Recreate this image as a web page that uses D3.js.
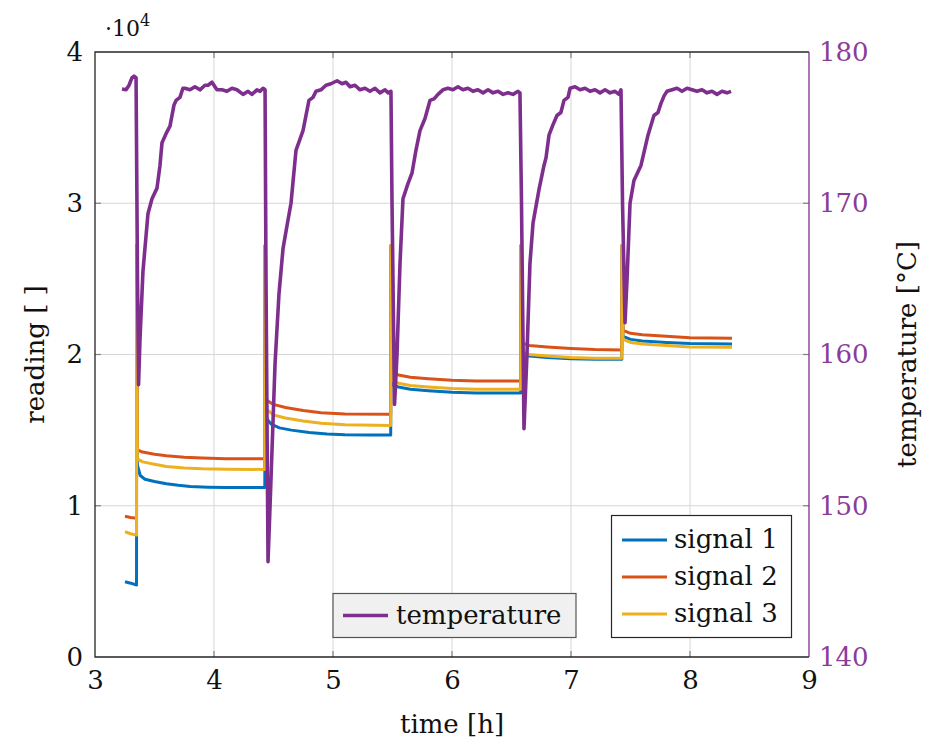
<!DOCTYPE html>
<html>
<head>
  <style>
    body {
      margin: 0;
      padding: 0;
      background: white;
      font-family: "DejaVu Serif", "Liberation Serif", serif;
    }
    #chart svg { display: block; }
    #chart text { font-family: "DejaVu Serif", "Liberation Serif", serif; }
  </style>
</head>
<body>
  <div id="chart"></div>

  <script src="https://cdnjs.cloudflare.com/ajax/libs/d3/7.8.5/d3.min.js"></script>
  <script>
    // ticks
    const timeTicks = [3, 4, 5, 6, 7, 8, 9];
    const readingTicks = [0, 10000, 20000, 30000, 40000];
    const tempTicks = [140, 150, 160, 170, 180];

    // [time h, reading]
    const signal1 = [
      [3.252, 4980], [3.30, 4880], [3.349, 4760], [3.350, 27200], [3.356, 12700], [3.38, 12000],
      [3.42, 11750], [3.50, 11600], [3.60, 11450], [3.70, 11350], [3.80, 11280], [3.95, 11230],
      [4.10, 11200], [4.427, 11200],
      [4.429, 27200], [4.437, 15800], [4.48, 15400], [4.55, 15150], [4.65, 15000], [4.80, 14850],
      [4.95, 14750], [5.10, 14700], [5.30, 14680], [5.485, 14680],
      [5.487, 27200], [5.495, 18000], [5.55, 17850], [5.65, 17700], [5.80, 17600], [6.00, 17500],
      [6.20, 17450], [6.578, 17450],
      [6.580, 27200], [6.588, 20050], [6.65, 19900], [6.80, 19800], [7.00, 19720], [7.20, 19680],
      [7.427, 19680],
      [7.429, 27200], [7.437, 21200], [7.50, 21000], [7.60, 20900], [7.80, 20800], [8.00, 20720],
      [8.353, 20700]
    ];
    const signal2 = [
      [3.252, 9300], [3.30, 9220], [3.349, 9170], [3.350, 27200], [3.356, 13700], [3.40, 13550],
      [3.50, 13400], [3.60, 13300], [3.75, 13200], [3.90, 13150], [4.10, 13100], [4.427, 13100],
      [4.429, 27200], [4.437, 17000], [4.50, 16700], [4.60, 16500], [4.75, 16300], [4.90, 16150],
      [5.10, 16070], [5.485, 16050],
      [5.487, 27200], [5.495, 18800], [5.55, 18650], [5.65, 18500], [5.80, 18400], [6.00, 18300],
      [6.20, 18250], [6.578, 18250],
      [6.580, 27200], [6.588, 20750], [6.65, 20600], [6.80, 20500], [7.00, 20400], [7.20, 20330],
      [7.427, 20300],
      [7.429, 27200], [7.437, 21600], [7.50, 21400], [7.60, 21300], [7.80, 21200], [8.00, 21100],
      [8.353, 21080]
    ];
    const signal3 = [
      [3.252, 8280], [3.30, 8150], [3.349, 8060], [3.350, 27200], [3.356, 13100], [3.40, 12900],
      [3.50, 12750], [3.60, 12600], [3.75, 12500], [3.90, 12450], [4.10, 12420], [4.427, 12400],
      [4.429, 27200], [4.437, 16400], [4.50, 16000], [4.60, 15800], [4.75, 15600], [4.90, 15450],
      [5.10, 15350], [5.485, 15300],
      [5.487, 27200], [5.495, 18300], [5.55, 18100], [5.65, 17950], [5.80, 17850], [6.00, 17750],
      [6.20, 17700], [6.578, 17700],
      [6.580, 27200], [6.588, 20150], [6.65, 20000], [6.80, 19900], [7.00, 19800], [7.20, 19750],
      [7.427, 19750],
      [7.429, 27200], [7.437, 21000], [7.50, 20800], [7.60, 20700], [7.80, 20600], [8.00, 20500],
      [8.353, 20480]
    ];

    // [time h, °C]
    const temperature = [
      [3.227, 177.55], [3.261, 177.5], [3.286, 177.8], [3.311, 178.3], [3.328, 178.4], [3.345, 178.3],
      [3.357, 165.0], [3.366, 158.0], [3.378, 161.0], [3.403, 165.5], [3.445, 169.3], [3.479, 170.3],
      [3.521, 171.0], [3.546, 172.5], [3.563, 174.0], [3.597, 174.6], [3.630, 175.1], [3.664, 176.5],
      [3.681, 176.8], [3.714, 177.0], [3.739, 177.6], [3.756, 177.6], [3.798, 177.5], [3.840, 177.7],
      [3.882, 177.5], [3.924, 177.8], [3.950, 177.8], [3.983, 178.0], [4.025, 177.5], [4.067, 177.5],
      [4.109, 177.4], [4.151, 177.6], [4.193, 177.5], [4.244, 177.2], [4.286, 177.4], [4.319, 177.2],
      [4.361, 177.5], [4.387, 177.4], [4.412, 177.6], [4.429, 177.5],
      [4.437, 165.0], [4.454, 146.3], [4.471, 150.0], [4.513, 159.4], [4.546, 164.0], [4.580, 167.0],
      [4.613, 168.5], [4.647, 170.0], [4.689, 173.5], [4.748, 174.8], [4.798, 176.8], [4.832, 177.0],
      [4.857, 177.4], [4.899, 177.5], [4.941, 177.8], [4.983, 177.9], [5.034, 178.1], [5.076, 177.9],
      [5.109, 178.0], [5.143, 177.7], [5.185, 177.8], [5.227, 177.5], [5.269, 177.6], [5.311, 177.4],
      [5.353, 177.6], [5.395, 177.3], [5.437, 177.5], [5.462, 177.3], [5.487, 177.4],
      [5.496, 170.0], [5.517, 156.7], [5.538, 160.0], [5.563, 166.0], [5.588, 170.3], [5.630, 171.3],
      [5.664, 172.0], [5.697, 173.5], [5.731, 174.8], [5.773, 175.6], [5.815, 176.8], [5.849, 176.9],
      [5.882, 177.2], [5.924, 177.5], [5.966, 177.6], [6.008, 177.5], [6.050, 177.7], [6.092, 177.5],
      [6.134, 177.6], [6.176, 177.4], [6.218, 177.5], [6.261, 177.3], [6.303, 177.5], [6.345, 177.3],
      [6.387, 177.4], [6.429, 177.2], [6.471, 177.3], [6.513, 177.2], [6.555, 177.4], [6.571, 177.3],
      [6.584, 170.0], [6.605, 155.1], [6.630, 160.0], [6.655, 166.0], [6.681, 168.7], [6.731, 170.9],
      [6.773, 172.5], [6.790, 173.0], [6.815, 174.5], [6.849, 175.2], [6.882, 175.8], [6.915, 176.0],
      [6.941, 176.8], [6.975, 177.0], [6.992, 177.6], [7.034, 177.7], [7.076, 177.5], [7.118, 177.6],
      [7.160, 177.4], [7.202, 177.5], [7.244, 177.3], [7.286, 177.5], [7.328, 177.3], [7.370, 177.4],
      [7.403, 177.2], [7.420, 177.5],
      [7.433, 170.0], [7.454, 162.1], [7.471, 165.0], [7.496, 170.0], [7.529, 171.5], [7.588, 172.5],
      [7.647, 174.5], [7.697, 175.8], [7.731, 176.0], [7.756, 176.6], [7.782, 177.1], [7.807, 177.4],
      [7.849, 177.5], [7.891, 177.6], [7.933, 177.4], [7.975, 177.6], [8.017, 177.5], [8.059, 177.4],
      [8.101, 177.5], [8.143, 177.3], [8.185, 177.4], [8.227, 177.2], [8.269, 177.4], [8.311, 177.3],
      [8.345, 177.4]
    ];

    const signalNames = ['signal 1', 'signal 2', 'signal 3'];
    const signalColors = ['#0072BD', '#D95319', '#EDB120'];
    const tempColor = '#7E2F8E';

    function drawChart() {
      const width = 928;
      const height = 744;
      const margin = { top: 52, right: 119, bottom: 87, left: 95 };
      const fontSize = 26;
      const serif = '"DejaVu Serif", "Liberation Serif", serif';

      const svg = d3.select('#chart')
        .append('svg')
        .attr('width', width)
        .attr('height', height)
        .attr('font-family', serif);

      const x = d3.scaleLinear().domain([3, 9]).range([margin.left, width - margin.right]);
      const yL = d3.scaleLinear().domain([0, 40000]).range([height - margin.bottom, margin.top]);
      const yR = d3.scaleLinear().domain([140, 180]).range([height - margin.bottom, margin.top]);

      const x0 = margin.left, x1 = width - margin.right;
      const y0 = height - margin.bottom, y1 = margin.top;

      // grid
      const grid = svg.append('g').attr('stroke', '#d6d6d6').attr('stroke-width', 1);
      grid.selectAll('.gx')
        .data(timeTicks.slice(1, -1))
        .enter().append('line')
        .attr('x1', d => x(d)).attr('x2', d => x(d))
        .attr('y1', y0).attr('y2', y1);
      grid.selectAll('.gy')
        .data(readingTicks.slice(1, -1))
        .enter().append('line')
        .attr('x1', x0).attr('x2', x1)
        .attr('y1', d => yL(d)).attr('y2', d => yL(d));

      // inward ticks
      const ticks = svg.append('g').attr('stroke', '#808080').attr('stroke-width', 1.2);
      timeTicks.slice(1, -1).forEach(t => {
        ticks.append('line').attr('x1', x(t)).attr('x2', x(t)).attr('y1', y0).attr('y2', y0 - 6);
        ticks.append('line').attr('x1', x(t)).attr('x2', x(t)).attr('y1', y1).attr('y2', y1 + 6);
      });
      readingTicks.slice(1, -1).forEach(v => {
        ticks.append('line').attr('x1', x0).attr('x2', x0 + 6).attr('y1', yL(v)).attr('y2', yL(v));
      });
      tempTicks.slice(1, -1).forEach(v => {
        ticks.append('line').attr('x1', x1).attr('x2', x1 - 6).attr('y1', yR(v)).attr('y2', yR(v));
      });

      // lines
      const lineL = d3.line().x(d => x(d[0])).y(d => yL(d[1]));
      const lineR = d3.line().x(d => x(d[0])).y(d => yR(d[1]));

      [signal1, signal2, signal3].forEach((s, i) => {
        svg.append('path')
          .datum(s)
          .attr('d', lineL)
          .attr('fill', 'none')
          .attr('stroke', signalColors[i])
          .attr('stroke-width', 3)
          .attr('stroke-linejoin', 'round');
      });

      svg.append('path')
        .datum(temperature)
        .attr('d', lineR)
        .attr('fill', 'none')
        .attr('stroke', tempColor)
        .attr('stroke-width', 3.6)
        .attr('stroke-linejoin', 'round');

      // frame
      svg.append('path')
        .attr('d', `M${x1},${y1}H${x0}V${y0}H${x1}`)
        .attr('fill', 'none')
        .attr('stroke', '#262626')
        .attr('stroke-width', 1.3);
      svg.append('line')
        .attr('x1', x1).attr('x2', x1).attr('y1', y1).attr('y2', y0)
        .attr('stroke', tempColor)
        .attr('stroke-width', 1.3);

      // tick labels via d3 axes (domain and tick lines hidden)
      const xAxis = svg.append('g')
        .attr('transform', `translate(0,${y0})`)
        .call(d3.axisBottom(x).tickValues(timeTicks).tickSize(0).tickPadding(14).tickFormat(d3.format('d')));
      const yAxisL = svg.append('g')
        .attr('transform', `translate(${x0},0)`)
        .call(d3.axisLeft(yL).tickValues(readingTicks).tickSize(0).tickPadding(12).tickFormat(d => d / 10000));
      const yAxisR = svg.append('g')
        .attr('transform', `translate(${x1},0)`)
        .call(d3.axisRight(yR).tickValues(tempTicks).tickSize(0).tickPadding(10).tickFormat(d3.format('d')));

      [xAxis, yAxisL, yAxisR].forEach(g => {
        g.attr('font-family', serif).attr('font-size', fontSize);
        g.select('.domain').remove();
        g.selectAll('.tick text').attr('font-size', fontSize);
      });
      xAxis.selectAll('.tick text').attr('fill', '#111');
      yAxisL.selectAll('.tick text').attr('fill', '#111');
      yAxisR.selectAll('.tick text').attr('fill', '#8a3c9a');

      // multiplier
      const mult = svg.append('text')
        .attr('x', 105)
        .attr('y', 36)
        .attr('font-size', 22)
        .attr('fill', '#111');
      mult.append('tspan').text('\u00b710');
      mult.append('tspan').attr('dy', -10).attr('font-size', 16).text('4');

      // axis titles
      svg.append('text')
        .attr('x', (x0 + x1) / 2)
        .attr('y', 733)
        .attr('text-anchor', 'middle')
        .attr('font-size', fontSize)
        .attr('fill', '#111')
        .text('time [h]');
      svg.append('text')
        .attr('transform', `translate(44,${(y0 + y1) / 2}) rotate(-90)`)
        .attr('text-anchor', 'middle')
        .attr('font-size', fontSize)
        .attr('fill', '#111')
        .text('reading [ ]');
      svg.append('text')
        .attr('transform', `translate(907,${(y0 + y1) / 2}) rotate(-90)`)
        .attr('text-anchor', 'middle')
        .attr('dy', '0.35em')
        .attr('font-size', fontSize)
        .attr('fill', '#111')
        .text('temperature [\u00b0C]');

      // legend: signals
      const lg = svg.append('g');
      lg.append('rect')
        .attr('x', 611.5).attr('y', 515.5)
        .attr('width', 180).attr('height', 122)
        .attr('fill', 'white')
        .attr('stroke', '#262626')
        .attr('stroke-width', 1.2);
      signalNames.forEach((n, i) => {
        const yy = 540 + i * 37;
        lg.append('line')
          .attr('x1', 622).attr('x2', 667).attr('y1', yy).attr('y2', yy)
          .attr('stroke', signalColors[i]).attr('stroke-width', 3);
        lg.append('text')
          .attr('x', 674).attr('y', yy)
          .attr('dy', '0.32em')
          .attr('font-size', fontSize)
          .attr('fill', '#111')
          .text(n);
      });

      // legend: temperature
      const lt = svg.append('g');
      lt.append('rect')
        .attr('x', 333).attr('y', 593.5)
        .attr('width', 243).attr('height', 44)
        .attr('fill', '#f0f0f0')
        .attr('stroke', '#555')
        .attr('stroke-width', 1.2);
      lt.append('line')
        .attr('x1', 343).attr('x2', 388).attr('y1', 615.5).attr('y2', 615.5)
        .attr('stroke', tempColor).attr('stroke-width', 3.6);
      lt.append('text')
        .attr('x', 396).attr('y', 615.5)
        .attr('dy', '0.32em')
        .attr('font-size', fontSize)
        .attr('fill', '#111')
        .text('temperature');
    }

    drawChart();
  </script>
</body>
</html>
